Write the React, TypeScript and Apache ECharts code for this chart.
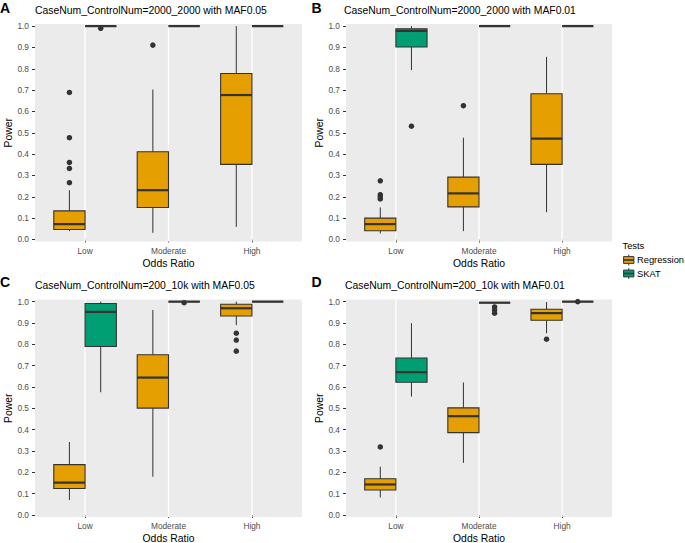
import React, { useEffect, useRef } from "react";
import * as echarts from "echarts";

const categories = ["Low", "Moderate", "High"];
const tests = ["Regression", "SKAT"];
const testColors = ["#E69F00", "#009E73"];
const yTicks = [0, 0.1, 0.2, 0.3, 0.4, 0.5, 0.6, 0.7, 0.8, 0.9, 1.0];
const panelLetters = ["A", "B", "C", "D"];
const panelTitles = [
  "CaseNum_ControlNum=2000_2000 with MAF0.05",
  "CaseNum_ControlNum=2000_2000 with MAF0.01",
  "CaseNum_ControlNum=200_10k with MAF0.05",
  "CaseNum_ControlNum=200_10k with MAF0.01",
];

// box stats per odds-ratio category: [lower whisker, Q1, median, Q3, upper whisker]
const regressionA = [
  [0.039, 0.047, 0.072, 0.134, 0.231],
  [0.031, 0.15, 0.231, 0.411, 0.703],
  [0.059, 0.352, 0.677, 0.778, 1.0],
];
const skatA = [
  [1, 1, 1, 1, 1],
  [1, 1, 1, 1, 1],
  [1, 1, 1, 1, 1],
];
const regressionAOutliers = [[0.689, 0.477, 0.361, 0.333, 0.266], [0.911], []];
const skatAOutliers = [[0.99], [], []];

const regressionB = [
  [0.028, 0.041, 0.072, 0.1, 0.15],
  [0.039, 0.153, 0.216, 0.292, 0.477],
  [0.128, 0.352, 0.473, 0.683, 0.856],
];
const skatB = [
  [0.794, 0.902, 0.978, 0.988, 1.0],
  [1, 1, 1, 1, 1],
  [1, 1, 1, 1, 1],
];
const regressionBOutliers = [[0.275, 0.21, 0.2, 0.19], [0.627], []];
const skatBOutliers = [[0.531], [], []];

const regressionC = [
  [0.07, 0.124, 0.152, 0.236, 0.342],
  [0.179, 0.501, 0.644, 0.751, 0.961],
  [0.89, 0.933, 0.969, 0.988, 1.0],
];
const skatC = [
  [0.575, 0.79, 0.952, 0.991, 1.0],
  [1, 1, 1, 1, 1],
  [1, 1, 1, 1, 1],
];
const regressionCOutliers = [[], [], [0.852, 0.82, 0.768]];
const skatCOutliers = [[], [0.995], []];

const regressionD = [
  [0.082, 0.117, 0.143, 0.17, 0.226],
  [0.244, 0.386, 0.463, 0.502, 0.621],
  [0.852, 0.913, 0.946, 0.964, 0.998],
];
const skatD = [
  [0.555, 0.622, 0.67, 0.736, 0.899],
  [0.995, 0.995, 0.995, 0.995, 0.997],
  [1, 1, 1, 1, 1],
];
const regressionDOutliers = [[0.319], [], [0.824]];
const skatDOutliers = [[], [0.975, 0.961, 0.946], [1.0]];

const panelStats = [
  [regressionA, skatA],
  [regressionB, skatB],
  [regressionC, skatC],
  [regressionD, skatD],
];
const panelOutliers = [
  [regressionAOutliers, skatAOutliers],
  [regressionBOutliers, skatBOutliers],
  [regressionCOutliers, skatCOutliers],
  [regressionDOutliers, skatDOutliers],
];

const FONT = "'Liberation Sans', Arial, Helvetica, sans-serif";
const GRID_LEFT = [35, 346, 35, 346];
const GRID_TOP = [24, 24, 299.5, 299.5];
const GRID_W = [267, 266, 267, 266];
const GRID_H = 217.6;
const DODGE = 0.1875;
const BOX_W = 0.375;
const EDGE = "#333333";

function makeBoxRenderer(fill: string) {
  return (params: any, api: any) => {
    const x = api.value(0);
    const pMin = api.coord([x, api.value(1)]);
    const pQ1 = api.coord([x, api.value(2)]);
    const pMed = api.coord([x, api.value(3)]);
    const pQ3 = api.coord([x, api.value(4)]);
    const pMax = api.coord([x, api.value(5)]);
    const half = api.size([BOX_W, 0])[0] / 2;
    return {
      type: "group",
      children: [
        {
          type: "line",
          shape: { x1: pMin[0], y1: pMin[1], x2: pQ1[0], y2: pQ1[1] },
          style: { stroke: EDGE, lineWidth: 1 },
        },
        {
          type: "line",
          shape: { x1: pQ3[0], y1: pQ3[1], x2: pMax[0], y2: pMax[1] },
          style: { stroke: EDGE, lineWidth: 1 },
        },
        {
          type: "rect",
          shape: { x: pQ3[0] - half, y: pQ3[1], width: half * 2, height: pQ1[1] - pQ3[1] },
          style: { fill, stroke: EDGE, lineWidth: 1.1 },
        },
        {
          type: "line",
          shape: { x1: pMed[0] - half, y1: pMed[1], x2: pMed[0] + half, y2: pMed[1] },
          style: { stroke: EDGE, lineWidth: 2.2 },
        },
      ],
    };
  };
}

function buildOption() {
  const grids: any[] = [];
  const xAxes: any[] = [];
  const yAxes: any[] = [];
  const series: any[] = [];
  const graphics: any[] = [];

  for (let i = 0; i < 4; i++) {
    grids.push({
      left: GRID_LEFT[i],
      top: GRID_TOP[i],
      width: GRID_W[i],
      height: GRID_H,
      show: true,
      backgroundColor: "#EBEBEB",
      borderWidth: 0,
      containLabel: false,
      outerBoundsMode: "none",
    });
    xAxes.push({
      type: "value",
      gridIndex: i,
      min: 0.4,
      max: 3.6,
      axisLine: { show: false },
      splitLine: { show: false },
      axisTick: { show: true, customValues: [1, 2, 3], length: 3, lineStyle: { color: EDGE, width: 1 } },
      axisLabel: {
        customValues: [1, 2, 3],
        formatter: (v: number) => categories[Math.round(v) - 1],
        fontSize: 8.3,
        color: "#4D4D4D",
        margin: 5,
        fontFamily: FONT,
      },
      name: "Odds Ratio",
      nameLocation: "middle",
      nameGap: 16.5,
      nameTextStyle: { fontSize: 10.4, color: "#000", fontFamily: FONT },
    });
    yAxes.push({
      type: "value",
      gridIndex: i,
      min: -0.01,
      max: 1.01,
      axisLine: { show: false },
      splitLine: { show: false },
      axisTick: { show: true, customValues: yTicks, length: 3, lineStyle: { color: EDGE, width: 1 } },
      axisLabel: {
        customValues: yTicks,
        formatter: (v: number) => v.toFixed(1),
        fontSize: 8.3,
        color: "#4D4D4D",
        margin: 6,
        fontFamily: FONT,
      },
      name: "Power",
      nameLocation: "middle",
      nameGap: 21.5,
      nameRotate: 90,
      nameTextStyle: { fontSize: 10.4, color: "#000", fontFamily: FONT },
    });

    // vertical white grid lines at categories
    series.push({
      type: "custom",
      xAxisIndex: i,
      yAxisIndex: i,
      z: 1,
      silent: true,
      data: categories.map((_, ci) => [ci + 1, 0]),
      encode: { x: 0, y: 1 },
      renderItem: (params: any, api: any) => {
        const cs = params.coordSys;
        const px = api.coord([api.value(0), 0])[0];
        return {
          type: "line",
          shape: { x1: px, y1: cs.y, x2: px, y2: cs.y + cs.height },
          style: { stroke: "#FFFFFF", lineWidth: 1.3 },
        };
      },
    });

    for (let t = 0; t < tests.length; t++) {
      const offset = t === 0 ? -DODGE : DODGE;
      const stats = panelStats[i][t];
      series.push({
        type: "custom",
        name: tests[t],
        xAxisIndex: i,
        yAxisIndex: i,
        z: 2,
        data: stats.map((s, ci) => [ci + 1 + offset, ...s]),
        encode: { x: 0, y: [1, 2, 3, 4, 5] },
        renderItem: makeBoxRenderer(testColors[t]),
      });
      const outs = panelOutliers[i][t];
      series.push({
        type: "scatter",
        xAxisIndex: i,
        yAxisIndex: i,
        z: 3,
        symbolSize: 5.5,
        itemStyle: { color: EDGE, opacity: 1 },
        data: outs.flatMap((vals, ci) => vals.map((v) => [ci + 1 + offset, v])),
      });
    }
  }

  // panel titles and letters
  const titlePos = [
    [35, 10.5],
    [344, 10.5],
    [35, 285.5],
    [345, 285.5],
  ];
  const letterPos = [
    [0, 8],
    [311.5, 8],
    [0, 282],
    [311.5, 282],
  ];
  for (let i = 0; i < 4; i++) {
    graphics.push({
      type: "text",
      x: titlePos[i][0],
      y: titlePos[i][1],
      style: {
        text: panelTitles[i],
        fontSize: 10.4,
        fontFamily: FONT,
        fill: "#000",
        align: "left",
        verticalAlign: "middle",
      },
    });
    graphics.push({
      type: "text",
      x: letterPos[i][0],
      y: letterPos[i][1],
      style: {
        text: panelLetters[i],
        fontSize: 14,
        fontWeight: "bold",
        fontFamily: FONT,
        fill: "#000",
        align: "left",
        verticalAlign: "middle",
      },
    });
  }

  // legend
  graphics.push({
    type: "text",
    x: 622.5,
    y: 246,
    style: { text: "Tests", fontSize: 9.3, fontFamily: FONT, fill: "#000", align: "left", verticalAlign: "middle" },
  });
  const keyCy = [260, 273.5];
  const keyX0 = 622;
  const keyW = 13.5;
  for (let t = 0; t < tests.length; t++) {
    const cy = keyCy[t];
    const cx = keyX0 + keyW / 2;
    graphics.push({
      type: "line",
      shape: { x1: cx, y1: cy - 5.4, x2: cx, y2: cy - 3.4 },
      style: { stroke: EDGE, lineWidth: 1 },
    });
    graphics.push({
      type: "line",
      shape: { x1: cx, y1: cy + 3.4, x2: cx, y2: cy + 5.4 },
      style: { stroke: EDGE, lineWidth: 1 },
    });
    graphics.push({
      type: "rect",
      shape: { x: keyX0 + 1.6, y: cy - 3.4, width: keyW - 3.2, height: 6.8 },
      style: { fill: testColors[t], stroke: EDGE, lineWidth: 1 },
    });
    graphics.push({
      type: "line",
      shape: { x1: keyX0 + 1.6, y1: cy, x2: keyX0 + keyW - 1.6, y2: cy },
      style: { stroke: EDGE, lineWidth: 1.6 },
    });
    graphics.push({
      type: "text",
      x: 637,
      y: cy,
      style: { text: tests[t], fontSize: 9.3, fontFamily: FONT, fill: "#000", align: "left", verticalAlign: "middle" },
    });
  }

  return {
    animation: false,
    backgroundColor: "#FFFFFF",
    textStyle: { fontFamily: FONT },
    grid: grids,
    xAxis: xAxes,
    yAxis: yAxes,
    series,
    graphic: graphics,
  };
}

export default function App() {
  const ref = useRef<HTMLDivElement>(null);
  useEffect(() => {
    if (!ref.current) return;
    const chart = echarts.init(ref.current, undefined, { renderer: "svg" });
    chart.setOption(buildOption() as any);
    return () => {
      chart.dispose();
    };
  }, []);
  return (
    <div
      ref={ref}
      style={{ position: "absolute", left: 0, top: 0, width: 685, height: 543, background: "#fff" }}
    />
  );
}
